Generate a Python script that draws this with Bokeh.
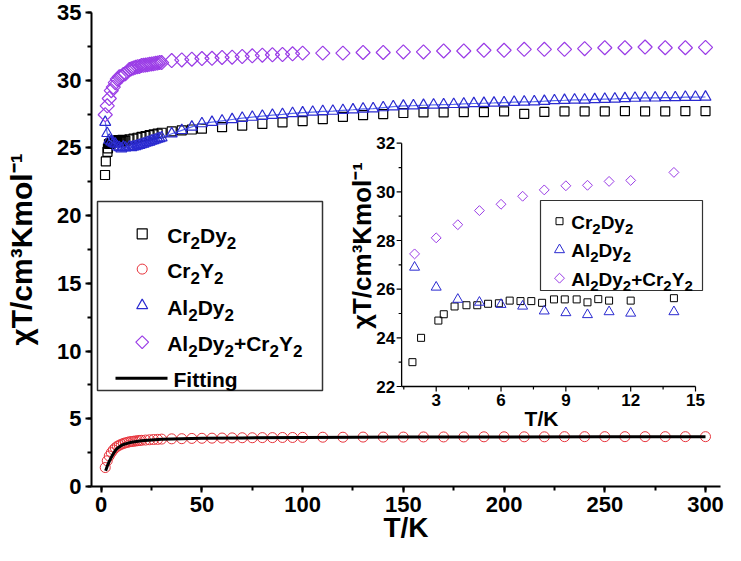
import math
from bokeh.plotting import figure
from bokeh.models import Range1d, SingleIntervalTicker
from bokeh.embed import file_html
from bokeh.resources import INLINE
from bokeh.core.properties import value

FONT = "Liberation Sans"

# ---------------- data ----------------
T_cd = [1.9, 2.3, 3.1, 3.35, 3.85, 4.4, 4.9, 5.4, 5.9, 6.4, 6.9, 7.4, 7.9, 8.45, 8.95, 9.5, 10.0,
        10.5, 11.0, 12.0, 14.0, 16, 18, 20, 22, 24, 26, 28, 30, 35, 40, 45, 50,
        60, 70, 80, 90, 100, 110, 120, 130, 140, 150, 160, 170, 180, 190, 200,
        210, 220, 230, 240, 250, 260, 270, 280, 290, 300]
chi_cd = [23.0, 24.0, 24.71, 24.97, 25.29, 25.34, 25.34, 25.40, 25.42, 25.53, 25.51, 25.51, 25.44,
          25.58, 25.58, 25.58, 25.46, 25.59, 25.53, 25.53, 25.63,
          25.68, 25.75, 25.82, 25.88, 25.94, 26.0, 26.06, 26.12,
          26.22, 26.3, 26.36, 26.42,
          26.53, 26.65, 26.77, 26.88, 26.98, 27.12, 27.3, 27.42, 27.5, 27.58, 27.62, 27.62,
          27.65, 27.65, 27.7, 27.52, 27.66, 27.7, 27.7, 27.7, 27.72, 27.7, 27.7, 27.72, 27.72]

T_cy = [2, 3, 4, 5, 6, 7, 8, 9, 10, 11, 12, 13, 14, 15, 16, 17, 18, 19, 20, 22, 24, 26, 28, 30,
        35, 40, 45, 50, 55, 60, 65, 70, 75, 80, 85, 90, 95, 100,
        110, 120, 130, 140, 150, 160, 170, 180, 190, 200, 210, 220, 230, 240, 250, 260,
        270, 280, 290, 300]
chi_cy = [1.4, 1.9, 2.25, 2.5, 2.7, 2.85, 2.97, 3.05, 3.12, 3.18, 3.22, 3.26, 3.3, 3.32, 3.34,
          3.36, 3.38, 3.4, 3.41, 3.43, 3.45, 3.47, 3.48, 3.5,
          3.52, 3.53, 3.55, 3.56, 3.57, 3.58, 3.59, 3.6, 3.6, 3.61, 3.61, 3.62, 3.62, 3.63,
          3.64, 3.64, 3.65, 3.65, 3.65, 3.66, 3.66, 3.66, 3.67, 3.67, 3.67, 3.67, 3.68, 3.68,
          3.68, 3.68, 3.68, 3.68, 3.68, 3.68]

T_ad = [2, 3, 4, 5, 6, 7, 8, 9, 10, 11, 12, 14,
        15, 16, 17, 18, 19, 20, 21, 22, 23, 24, 25, 26, 27, 28, 29, 30,
        35, 40, 45, 50, 55, 60, 65, 70, 75, 80, 85, 90, 95, 100, 105, 110, 115, 120, 125,
        130, 135, 140, 145, 150, 155, 160, 165, 170, 175, 180, 185, 190, 195, 200, 205,
        210, 215, 220, 225, 230, 235, 240, 245, 250, 255, 260, 265, 270, 275, 280, 285,
        290, 295, 300]
chi_ad = [26.9, 26.08, 25.58, 25.46, 25.37, 25.30, 25.10, 25.03, 24.95, 25.07, 25.01, 25.07,
          25.04, 25.09, 25.11, 25.17, 25.2, 25.26, 25.29, 25.36, 25.4, 25.44, 25.51, 25.55,
          25.6, 25.66, 25.7, 25.76,
          26.05, 26.3, 26.55, 26.8, 26.9, 27.0, 27.1, 27.2, 27.28, 27.35, 27.42, 27.48, 27.55,
          27.6, 27.65, 27.7, 27.72, 27.78, 27.82, 27.88, 27.9, 27.98, 28.05, 28.1, 28.12,
          28.15, 28.18, 28.2, 28.22, 28.25, 28.28, 28.3, 28.32, 28.35, 28.38, 28.4, 28.42,
          28.45, 28.5, 28.52, 28.55, 28.55, 28.58, 28.6, 28.62, 28.65, 28.68, 28.7, 28.7,
          28.72, 28.72, 28.75, 28.75, 28.76]

T_mix = [2, 3, 4, 5, 6, 7, 8, 9, 10, 11, 12, 14,
         15, 16, 17, 18, 19, 20, 21, 22, 23, 24, 25, 26, 27, 28, 29, 30,
         35, 40, 45, 50, 55, 60, 65, 70, 75, 80, 85, 90, 95, 100,
         110, 120, 130, 140, 150, 160, 170, 180, 190, 200, 210, 220, 230, 240, 250, 260,
         270, 280, 290, 300]
chi_mix = [27.45, 28.11, 28.65, 29.23, 29.49, 29.82, 30.08, 30.25, 30.27, 30.43, 30.47, 30.80,
           30.85, 30.9, 30.95, 31.0, 31.02, 31.08, 31.1, 31.12, 31.15, 31.18, 31.2, 31.22,
           31.25, 31.27, 31.3, 31.3,
           31.45, 31.5, 31.55, 31.6, 31.62, 31.68, 31.7, 31.75, 31.8, 31.85, 31.88, 31.9,
           31.95, 32.0,
           32.0, 32.0, 32.05, 32.05, 32.09, 32.09, 32.16, 32.16, 32.21, 32.21, 32.28, 32.28,
           32.28, 32.33, 32.4, 32.4, 32.45, 32.4, 32.4, 32.42]

T_fit = [2.2, 3, 4, 5, 6, 7, 8, 10, 12, 15, 20, 25, 30, 40, 50, 70, 100, 150, 200, 250, 300]
chi_fit = [1.17, 1.5, 1.85, 2.15, 2.42, 2.65, 2.82, 3.03, 3.15, 3.27, 3.38, 3.44, 3.48, 3.53,
           3.56, 3.59, 3.62, 3.65, 3.66, 3.67, 3.68]

INSET_TMAX = 14
main_xticks_interval = 50
main_yticks_interval = 5
inset_xticks = [3, 6, 9, 12, 15]
inset_xminor = [1.5, 4.5, 7.5, 10.5, 13.5]
inset_yticks = [22, 24, 26, 28, 30, 32]
inset_yminor = [23, 25, 27, 29, 31]
inset_xlim = (1.4, 15.0)
inset_ylim = (22, 32)

Y_LABEL = "\u03c7T/cm\u00b3Kmol\u207b\u00b9"
X_LABEL = "T/K"
LEG_MAIN = ["Cr_2Dy_2", "Cr_2Y_2", "Al_2Dy_2", "Al_2Dy_2+Cr_2Y_2", "Fitting"]
LEG_INSET = ["Cr_2Dy_2", "Al_2Dy_2", "Al_2Dy_2+Cr_2Y_2"]

C_CD = "#000000"
C_CY = "#e8343c"
C_AD = "#2a2ad0"
C_ADL = "#5a6cf0"
C_MIX = "#9a3ce6"

# ---------------- layout (canvas px) ----------------
W, H = 725, 545
BL, BR, BT, BB = 91, 5, 12, 59
FL, FR, FT, FB = BL, W - BR, BT, H - BB

X0_PX, X300_PX = 100.7, 705.0
xs = (X300_PX - X0_PX) / 300.0
x_start = (FL - X0_PX) / xs
x_end = (FR - X0_PX) / xs
y_end = 35.0

# inset mapping (canvas px)
IX3_PX, IXS = 435.7, 21.61
IY32_PX, IYS = 142.7, 24.33
ix_start = 3 + (FL - IX3_PX) / IXS
ix_end = 3 + (FR - IX3_PX) / IXS
iy_start = 32 - (FB - IY32_PX) / IYS
iy_end = 32 + (IY32_PX - FT) / IYS

p = figure(width=W, height=H, x_range=Range1d(x_start, x_end), y_range=Range1d(0, y_end),
           output_backend="svg", toolbar_location=None,
           min_border_left=BL, min_border_right=BR, min_border_top=BT, min_border_bottom=BB)
p.extra_x_ranges = {"ix": Range1d(ix_start, ix_end), "px": Range1d(FL, FR)}
p.extra_y_ranges = {"iy": Range1d(iy_start, iy_end), "py": Range1d(FB, FT)}
p.xgrid.visible = False
p.ygrid.visible = False
p.outline_line_color = None
p.background_fill_color = "white"

p.xaxis.ticker = SingleIntervalTicker(interval=main_xticks_interval, num_minor_ticks=2)
p.yaxis.ticker = SingleIntervalTicker(interval=main_yticks_interval, num_minor_ticks=2)
for ax in (p.xaxis, p.yaxis):
    ax.axis_line_width = 2
    ax.axis_line_color = "black"
    ax.major_tick_line_width = 2
    ax.minor_tick_line_width = 2
    ax.major_tick_out = 6
    ax.major_tick_in = 0
    ax.minor_tick_out = 4
    ax.minor_tick_in = 0
    ax.major_label_text_font = FONT
    ax.major_label_text_font_style = "bold"
    ax.major_label_text_font_size = "22px"
    ax.major_label_text_color = "black"
    ax.major_label_standoff = 4
    ax.axis_label_text_font = FONT
    ax.axis_label_text_font_style = "bold"
    ax.axis_label_text_color = "black"
p.xaxis.axis_label = X_LABEL
p.xaxis.axis_label_text_font_size = "28px"
p.xaxis.axis_label_standoff = -3
p.yaxis.axis_label = Y_LABEL
p.yaxis.axis_label_text_font_size = "30px"
p.yaxis.axis_label_standoff = 16

# main series
r_cd = p.scatter(T_cd, chi_cd, marker="square", size=9, fill_color=None,
                 line_color=C_CD, line_width=1.2)
r_cy = p.scatter(T_cy, chi_cy, marker="circle", size=10, fill_color=None,
                 line_color=C_CY, line_width=1.0)
p.line(T_ad, chi_ad, line_color=C_ADL, line_width=1.2)
r_ad = p.scatter(T_ad, chi_ad, marker="triangle", size=11, fill_color=None,
                 line_color=C_AD, line_width=1.2)
r_mix = p.scatter(T_mix, chi_mix, marker="square", angle=math.pi / 4, size=10,
                  fill_color=None, line_color=C_MIX, line_width=1.2)
r_fit = p.line(T_fit, chi_fit, line_color="black", line_width=3)

# inset series
def sub(T, v):
    pts = [(t, c) for t, c in zip(T, v) if t <= INSET_TMAX]
    return [a for a, _ in pts], [b for _, b in pts]

iT_cd, ic_cd = sub(T_cd, chi_cd)
iT_ad, ic_ad = sub(T_ad, chi_ad)
iT_mix, ic_mix = sub(T_mix, chi_mix)
kw = dict(x_range_name="ix", y_range_name="iy")
p.scatter(iT_cd, ic_cd, marker="square", size=7, fill_color=None,
          line_color=C_CD, line_width=1.0, **kw)
p.scatter(iT_ad, ic_ad, marker="triangle", size=10, fill_color=None,
          line_color=C_AD, line_width=1.0, **kw)
p.scatter(iT_mix, ic_mix, marker="square", angle=math.pi / 4, size=7,
          fill_color=None, line_color=C_MIX, line_width=1.0, **kw)

# inset axes
p.line([inset_xlim[0], inset_xlim[0]], [inset_ylim[0], inset_ylim[1]], line_color="black",
       line_width=1.3, **kw)
p.line([inset_xlim[0], inset_xlim[1]], [inset_ylim[0], inset_ylim[0]], line_color="black",
       line_width=1.3, **kw)
p.ray(x=[inset_xlim[0]] * len(inset_yticks), y=inset_yticks, length=5, angle=math.pi,
      length_units="screen", line_color="black", line_width=1.2, **kw)
p.ray(x=[inset_xlim[0]] * len(inset_yminor), y=inset_yminor, length=3, angle=math.pi,
      length_units="screen", line_color="black", line_width=1.2, **kw)
p.ray(x=inset_xticks, y=[inset_ylim[0]] * len(inset_xticks), length=5, angle=-math.pi / 2,
      length_units="screen", line_color="black", line_width=1.2, **kw)
p.ray(x=inset_xminor, y=[inset_ylim[0]] * len(inset_xminor), length=3, angle=-math.pi / 2,
      length_units="screen", line_color="black", line_width=1.2, **kw)
p.text(x=[inset_xlim[0]] * len(inset_yticks), y=inset_yticks, text=[str(v) for v in inset_yticks],
       x_offset=-6.5, text_align="right", text_baseline="middle", text_font=value(FONT),
       text_font_style="bold", text_font_size="17px", text_color="black", **kw)
p.text(x=inset_xticks, y=[inset_ylim[0] - 7.5 / IYS] * len(inset_xticks),
       text=[str(v) for v in inset_xticks], text_align="center", text_baseline="top",
       text_font=value(FONT), text_font_style="bold", text_font_size="17px",
       text_color="black", **kw)
p.text(x=[3 + (541 - IX3_PX) / IXS], y=[32 - (418 - IY32_PX) / IYS], text=[X_LABEL],
       text_align="center", text_baseline="middle", text_font=value(FONT),
       text_font_style="bold", text_font_size="21px", text_color="black", **kw)
p.text(x=[3 + (361 - IX3_PX) / IXS], y=[32 - (245 - IY32_PX) / IYS], text=[Y_LABEL],
       angle=math.pi / 2, text_align="center", text_baseline="middle",
       text_font=value(FONT), text_font_style="bold", text_font_size="26px",
       text_color="black", **kw)

# ---------------- legends (drawn in canvas-pixel ranges) ----------------
pk = dict(x_range_name="px", y_range_name="py")
WID = {'A': 722, 'C': 722, 'D': 722, 'F': 611, 'Y': 667, 'l': 278, 'y': 556, 'r': 389,
       'i': 278, 't': 333, 'n': 611, 'g': 611, '+': 584, '2': 556}


def legend_text(labels, x0, rows, F, Fs, dy):
    mx, my, mt, sx, sy, st = [], [], [], [], [], []
    for lab, yc in zip(labels, rows):
        xb = x0
        run, i = "", 0
        while i < len(lab):
            ch = lab[i]
            if ch == "_":
                if run:
                    mx.append(xb); my.append(yc); mt.append(run)
                    xb += sum(WID.get(c, 600) for c in run) / 1000.0 * F
                    run = ""
                s = lab[i + 1]
                sx.append(xb); sy.append(yc + dy); st.append(s)
                xb += WID.get(s, 600) / 1000.0 * Fs
                i += 2
                continue
            run += ch
            i += 1
        if run:
            mx.append(xb); my.append(yc); mt.append(run)
    p.text(x=mx, y=my, text=mt, text_align="left", text_baseline="middle",
           text_font=value(FONT), text_font_style="bold", text_font_size=f"{F}px",
           text_color="black", **pk)
    if st:
        p.text(x=sx, y=sy, text=st, text_align="left", text_baseline="middle",
               text_font=value(FONT), text_font_style="bold", text_font_size=f"{Fs}px",
               text_color="black", **pk)


# main legend
ML_BOX = (97, 322, 201, 390)
ML_MX = 141.7
ML_ROWS = [233.3, 268.6, 305.0, 341.7, 377.7]
p.quad(left=[ML_BOX[0]], right=[ML_BOX[1]], top=[ML_BOX[2]], bottom=[ML_BOX[3]],
       fill_color="white", line_color="#333333", line_width=1.5, **pk)
p.scatter([ML_MX], [ML_ROWS[0]], marker="square", size=10, fill_color=None,
          line_color=C_CD, line_width=1.2, **pk)
p.scatter([ML_MX], [ML_ROWS[1]], marker="circle", size=10, fill_color=None,
          line_color=C_CY, line_width=1.0, **pk)
p.scatter([ML_MX], [ML_ROWS[2]], marker="triangle", size=11, fill_color=None,
          line_color=C_AD, line_width=1.2, **pk)
p.scatter([ML_MX], [ML_ROWS[3]], marker="square", angle=math.pi / 4, size=9,
          fill_color=None, line_color=C_MIX, line_width=1.2, **pk)
p.line([115, 167], [ML_ROWS[4], ML_ROWS[4]], line_color="black", line_width=3, **pk)
legend_text(LEG_MAIN[:4], 166.7, [r + 1.5 for r in ML_ROWS[:4]], 21, 17, 7.5)
legend_text(LEG_MAIN[4:], 173.0, [r + 1.0 for r in ML_ROWS[4:]], 21, 17, 7.5)

# inset legend
IL_BOX = (540, 702, 200, 290)
IL_MX = 559
IL_ROWS = [220.7, 249.3, 277.7]
p.quad(left=[IL_BOX[0]], right=[IL_BOX[1]], top=[IL_BOX[2]], bottom=[IL_BOX[3]],
       fill_color="white", line_color="#333333", line_width=1.2, **pk)
p.scatter([IL_MX], [IL_ROWS[0]], marker="square", size=7, fill_color=None,
          line_color=C_CD, line_width=1.0, **pk)
p.scatter([IL_MX], [IL_ROWS[1]], marker="triangle", size=10, fill_color=None,
          line_color=C_AD, line_width=1.0, **pk)
p.scatter([IL_MX], [IL_ROWS[2]], marker="square", angle=math.pi / 4, size=7,
          fill_color=None, line_color=C_MIX, line_width=1.0, **pk)
legend_text(LEG_INSET, 570.7, [r + 1.0 for r in IL_ROWS], 19, 15, 6.5)

open("out.html", "w").write(file_html(p, INLINE))
